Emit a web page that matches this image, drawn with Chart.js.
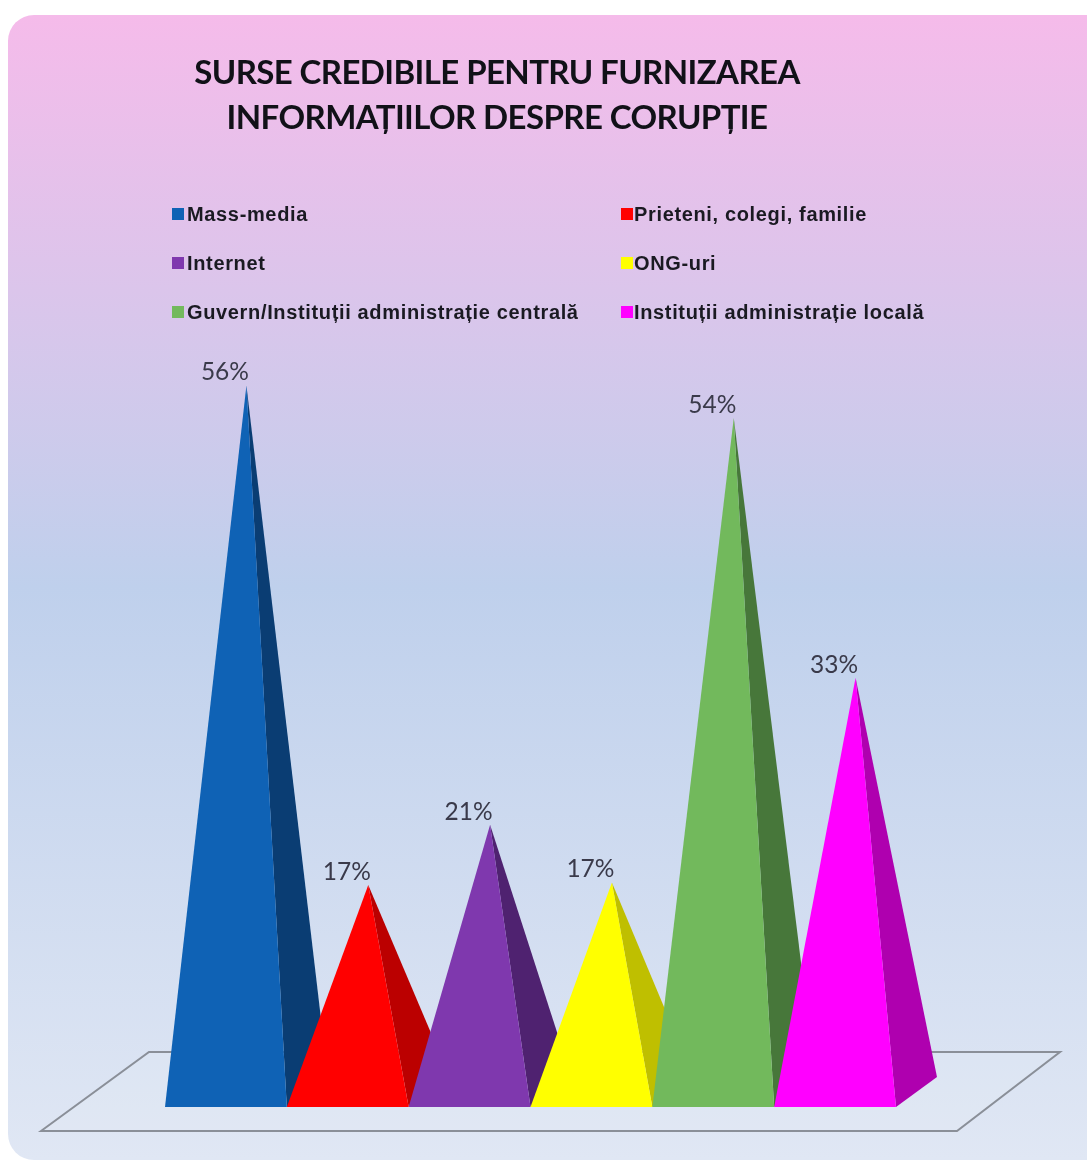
<!DOCTYPE html>
<html lang="ro">
<head>
<meta charset="utf-8">
<title>Surse credibile</title>
<script src="https://cdn.jsdelivr.net/npm/chart.js@4"></script>
<style>
html,body{margin:0;padding:0;background:#fff;}
canvas{display:block;}
</style>
</head>
<body>
<canvas id="c" width="1087" height="1162"></canvas>
<script>
const titleLines = ["SURSE CREDIBILE PENTRU FURNIZAREA", "INFORMAȚIILOR DESPRE CORUPȚIE"];
const categories = ["Mass-media", "Prieteni, colegi, familie", "Internet", "ONG-uri", "Guvern/Instituții administrație centrală", "Instituții administrație locală"];
const values = [56.3, 16.5, 21.3, 16.7, 53.7, 33];
const frontColors = ["#0F62B5", "#FF0000", "#7F38AE", "#FFFF00", "#72B95C", "#FF00FF"];
const sideColors = ["#0A3D73", "#BB0000", "#4F2270", "#BFBF00", "#47773A", "#AF00AF"];

const DEPTH_X = 41, DEPTH_Y = 30;

const scene = {
  id: "scene",
  beforeDraw(chart) {
    const ctx = chart.ctx;
    ctx.save();
    const g = ctx.createLinearGradient(0, 15, 0, 1160);
    g.addColorStop(0, "#F5BBEA");
    g.addColorStop(0.5, "#BFD0EC");
    g.addColorStop(1, "#E0E7F4");
    ctx.fillStyle = g;
    ctx.beginPath();
    ctx.roundRect(8, 15, 1110, 1145, 26);
    ctx.fill();
    ctx.restore();
    ctx.letterSpacing = "-0.6px";
  },
  beforeDatasetsDraw(chart) {
    const ctx = chart.ctx;
    ctx.letterSpacing = "0px";
    const a = chart.chartArea;
    ctx.save();
    ctx.beginPath();
    ctx.moveTo(a.left - 124, a.bottom + 24);
    ctx.lineTo(a.left - 16, a.bottom - 55);
    ctx.lineTo(a.left + 895, a.bottom - 55);
    ctx.lineTo(a.left + 792, a.bottom + 24);
    ctx.closePath();
    ctx.fillStyle = "rgba(235,240,250,0.15)";
    ctx.fill();
    ctx.strokeStyle = "#8A8F98";
    ctx.lineWidth = 2;
    ctx.stroke();
    ctx.restore();
  },
  beforeDatasetDraw(chart, args) {
    const ctx = chart.ctx;
    const meta = args.meta;
    ctx.save();
    meta.data.forEach((bar, i) => {
      const left = bar.x - bar.width / 2, right = bar.x + bar.width / 2;
      const apexX = bar.x + DEPTH_X / 2, apexY = bar.y - DEPTH_Y / 2;
      ctx.fillStyle = sideColors[i];
      ctx.beginPath();
      ctx.moveTo(right, bar.base);
      ctx.lineTo(right + DEPTH_X, bar.base - DEPTH_Y);
      ctx.lineTo(apexX, apexY);
      ctx.closePath();
      ctx.fill();
      ctx.fillStyle = frontColors[i];
      ctx.beginPath();
      ctx.moveTo(left, bar.base);
      ctx.lineTo(right, bar.base);
      ctx.lineTo(apexX, apexY);
      ctx.closePath();
      ctx.fill();
      ctx.font = "24.5px Lato";
      ctx.fillStyle = "#3A3A4A";
      ctx.textAlign = "center";
      ctx.textBaseline = "middle";
      ctx.fillText(Math.round(values[i]) + "%", bar.x - 1, apexY - 13);
    });
    ctx.restore();
    return false;
  },
  afterDraw(chart) {
    const ctx = chart.ctx;
    ctx.save();
    ctx.font = "bold 20px 'Liberation Sans'";
    ctx.letterSpacing = "0.65px";
    ctx.textBaseline = "middle";
    ctx.textAlign = "left";
    categories.forEach((name, i) => {
      const col = i % 2, row = Math.floor(i / 2);
      const x = col ? 621 : 172;
      const y = 214 + row * 49;
      ctx.fillStyle = frontColors[i];
      ctx.fillRect(x, y - 6, 12, 12);
      ctx.fillStyle = "#1A1A22";
      ctx.fillText(name, x + (col ? 13 : 15), y + 1);
    });
    ctx.restore();
  }
};

new Chart(document.getElementById("c"), {
  type: "bar",
  plugins: [scene],
  data: {
    labels: categories,
    datasets: [{
      data: values,
      backgroundColor: frontColors,
      categoryPercentage: 1,
      barPercentage: 1
    }]
  },
  options: {
    responsive: false,
    animation: false,
    layout: { padding: { left: 0, right: 93, top: 0, bottom: 55 } },
    plugins: {
      legend: { display: false },
      tooltip: { enabled: false },
      title: {
        display: true,
        text: titleLines,
        color: "#111118",
        font: { family: "Lato", weight: "bold", size: 33, lineHeight: 1.364 },
        padding: { top: 51, bottom: 213 }
      }
    },
    scales: {
      x: { display: false },
      y: {
        display: true, min: 0, max: 60,
        grid: { display: false }, border: { display: false }, ticks: { display: false },
        afterFit(s) { s.width = 165; }
      },
      yRight: {
        display: true, position: "right", min: 0, max: 60,
        grid: { display: false }, border: { display: false }, ticks: { display: false },
        afterFit(s) { s.width = 98; }
      }
    }
  }
});
</script>
</body>
</html>
